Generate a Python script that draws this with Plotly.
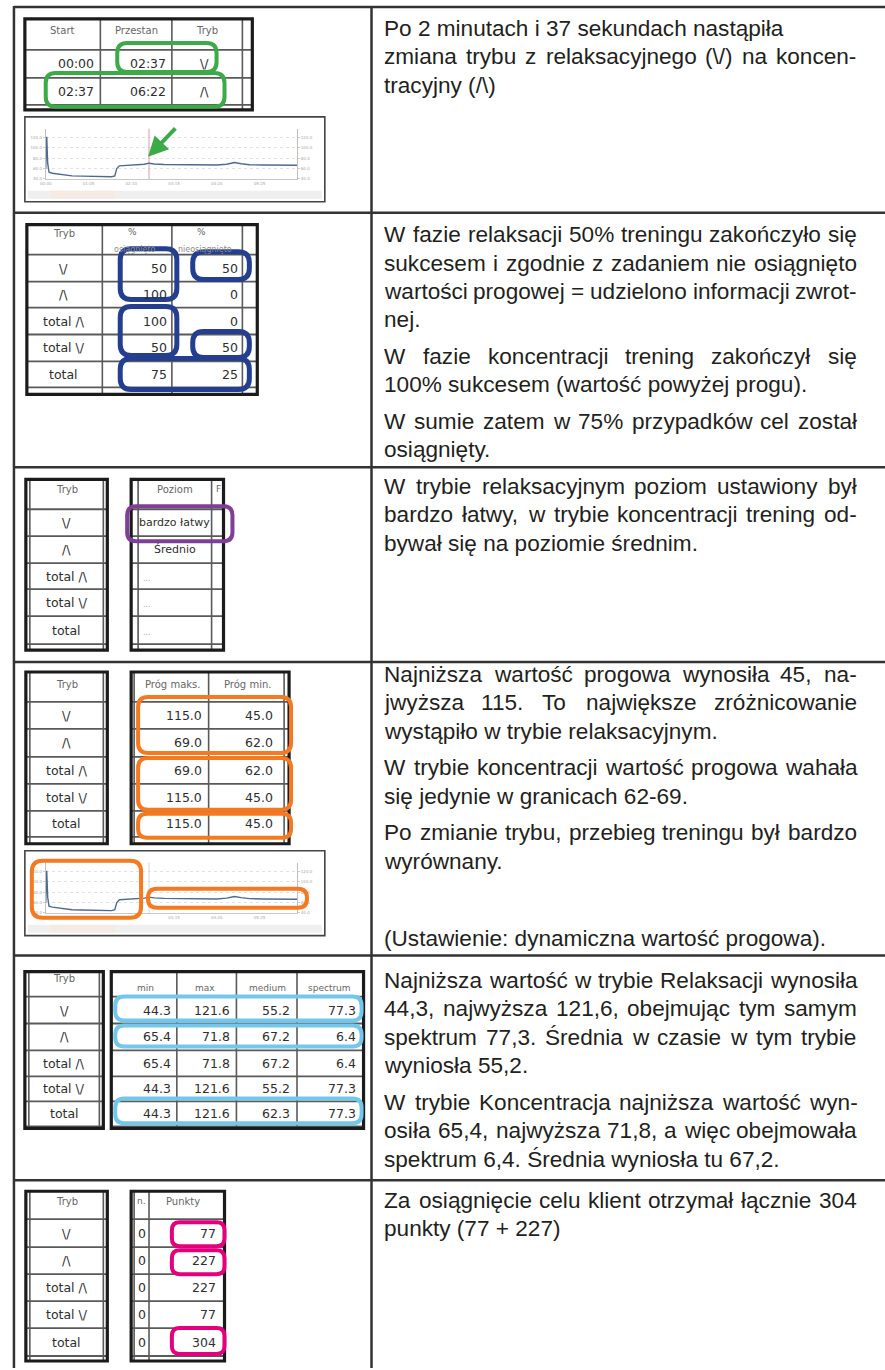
import plotly.graph_objects as go

W_PX, H_PX = 885, 1370

# ---------------- data ----------------
TRYB = ["\\/", "/\\", "total /\\", "total \\/", "total"]

T1_HEAD = ["Start", "Przestan", "Tryb"]
T1_START = ["00:00", "02:37"]
T1_END = ["02:37", "06:22"]
T1_MODE = ["\\/", "/\\"]

PCT_HEAD = ["%", "%"]
PCT_SUB = ["osiągnięto", "nieosiągnięto"]
PCT_OK = [50, 100, 100, 50, 75]
PCT_FAIL = [50, 0, 0, 50, 25]

LEVEL_HEAD = "Poziom"
LEVEL = ["bardzo łatwy", "Średnio", "...", "...", "..."]

THR_HEAD = ["Próg maks.", "Próg min."]
THR_MAX = [115.0, 69.0, 69.0, 115.0, 115.0]
THR_MIN = [45.0, 62.0, 62.0, 45.0, 45.0]

ST_HEAD = ["min", "max", "medium", "spectrum"]
ST_MIN = [44.3, 65.4, 65.4, 44.3, 44.3]
ST_MAX = [121.6, 71.8, 71.8, 121.6, 121.6]
ST_MED = [55.2, 67.2, 67.2, 55.2, 62.3]
ST_SPEC = [77.3, 6.4, 6.4, 77.3, 77.3]

PTS_HEAD = ["n.", "Punkty"]
PTS_N = [0, 0, 0, 0, 0]
POINTS = [77, 227, 227, 77, 304]

# signal of the session (seconds, value)
SIG_T = [0, 1.5, 3, 5, 10, 20, 30, 40, 55, 70, 85, 100, 105, 108, 112, 120, 135,
         150, 157, 165, 180, 200, 220, 240, 260, 275, 287, 297, 310, 330, 350, 370, 382]
SIG_V = [60, 121.6, 70, 53, 51, 49.5, 47.5, 46, 45.5, 45, 44.8, 44.3, 46, 60, 65.4, 66,
         66.8, 68.5, 70.5, 69, 68, 67.6, 67.8, 67.2, 67, 68.5, 71.8, 69.5, 67.5, 67,
         66.8, 66.5, 66.5]
MODE_CHANGE_S = 157
SESSION_END_S = 382
Y_TICKS = [40, 60, 80, 100, 120]
Y_TICKTEXT = ["40.0", "60.0", "80.0", "100.0", "120.0"]
X_TICKS = [0, 65, 130, 195, 260, 325]
X_TICKTEXT = ["00:00", "01:05", "02:10", "03:15", "04:20", "05:25"]

ROW_TEXT = [
    [["Po 2 minutach i 37 sekundach nastąpiła",
      "zmiana trybu z relaksacyjnego (\\/) na koncen-",
      "tracyjny (/\\)"]],
    [["W fazie relaksacji 50% treningu zakończyło się",
      "sukcesem i zgodnie z zadaniem nie osiągnięto",
      "wartości progowej = udzielono informacji zwrot-",
      "nej."],
     ["W fazie koncentracji trening zakończył się",
      "100% sukcesem (wartość powyżej progu)."],
     ["W sumie zatem w 75% przypadków cel został",
      "osiągnięty."]],
    [["W trybie relaksacyjnym poziom ustawiony był",
      "bardzo łatwy, w trybie koncentracji trening od-",
      "bywał się na poziomie średnim."]],
    [["Najniższa wartość progowa wynosiła 45, na-",
      "jwyższa 115. To największe zróżnicowanie",
      "wystąpiło w trybie relaksacyjnym."],
     ["W trybie koncentracji wartość progowa wahała",
      "się jedynie w granicach 62-69."],
     ["Po zmianie trybu, przebieg treningu był bardzo",
      "wyrównany."],
     [""],
     ["(Ustawienie: dynamiczna wartość progowa)."]],
    [["Najniższa wartość w trybie Relaksacji wynosiła",
      "44,3, najwyższa 121,6, obejmując tym samym",
      "spektrum 77,3. Średnia w czasie w tym trybie",
      "wyniosła 55,2."],
     ["W trybie Koncentracja najniższa wartość wyn-",
      "osiła 65,4, najwyższa 71,8, a więc obejmowała",
      "spektrum 6,4. Średnia wyniosła tu 67,2."]],
    [["Za osiągnięcie celu klient otrzymał łącznie 304",
      "punkty (77 + 227)"]],
]

# ---------------- styling / layout constants ----------------
FRAME = "#333333"
TEXT_C = "#231f20"
TAB_TXT = "#2e2e2e"
TAB_HEAD = "#666666"
TAB_FONT = "DejaVu Sans"
MAIN_FONT = "Liberation Sans, Arial, sans-serif"
GREEN, NAVY, PURPLE, ORANGE, SKY, PINK = "#3cab47", "#243f8f", "#7f3f98", "#f47920", "#74c7ec", "#e4007c"

ROW_LINES = [213, 468, 663, 957, 1182]
COL_SPLIT = 368
TXT_X0, TXT_X1 = 380, 855
FS = 22.6
LH = 28.4
PG = 8.3
BLANK_EXTRA = 4
ROW_FIRST_Y = [28.5, 235, 487, 675.5, 982, 1202]
NO_JUSTIFY = {(0, 0, 0)}

AW = {' ': 278, '!': 278, '%': 889, '(': 333, ')': 333, '+': 584, ',': 278, '-': 333,
      '.': 278, '/': 278, ':': 278, '=': 584, '\\': 278,
      'A': 667, 'B': 667, 'C': 722, 'D': 722, 'E': 667, 'F': 611, 'G': 778, 'H': 722,
      'I': 278, 'J': 500, 'K': 667, 'L': 556, 'M': 833, 'N': 722, 'O': 778, 'P': 667,
      'Q': 778, 'R': 722, 'S': 667, 'T': 611, 'U': 722, 'V': 667, 'W': 944, 'X': 667,
      'Y': 667, 'Z': 611,
      'a': 556, 'b': 556, 'c': 500, 'd': 556, 'e': 556, 'f': 278, 'g': 556, 'h': 556,
      'i': 222, 'j': 222, 'k': 500, 'l': 222, 'm': 833, 'n': 556, 'o': 556, 'p': 556,
      'q': 556, 'r': 333, 's': 500, 't': 278, 'u': 556, 'v': 500, 'w': 722, 'x': 500,
      'y': 500, 'z': 500,
      'ą': 556, 'ć': 500, 'ę': 556, 'ł': 222, 'ń': 556, 'ó': 556, 'ś': 500, 'ź': 500,
      'ż': 500, 'Ś': 667, 'Ł': 556, 'Ż': 611}
for d in "0123456789":
    AW[d] = 556


def tw(s, size=FS):
    return sum(AW.get(c, 556) for c in s) * size / 1000.0


shapes, anns = [], []


def line(x0, y0, x1, y1, color=FRAME, width=2.5):
    shapes.append(dict(type="line", xref="x", yref="y", x0=x0, y0=y0, x1=x1, y1=y1,
                       line=dict(color=color, width=width)))


def rect(x0, y0, x1, y1, color, width, fill="rgba(0,0,0,0)"):
    shapes.append(dict(type="rect", xref="x", yref="y", x0=x0, y0=y0, x1=x1, y1=y1,
                       line=dict(color=color, width=width), fillcolor=fill))


def frect(x0, y0, x1, y1, fill):
    shapes.append(dict(type="rect", xref="x", yref="y", x0=x0, y0=y0, x1=x1, y1=y1,
                       line=dict(width=0), fillcolor=fill))


def rrect(x0, y0, x1, y1, color, width=4, r=9):
    p = (f"M{x0 + r},{y0} L{x1 - r},{y0} Q{x1},{y0} {x1},{y0 + r} L{x1},{y1 - r} "
         f"Q{x1},{y1} {x1 - r},{y1} L{x0 + r},{y1} Q{x0},{y1} {x0},{y1 - r} "
         f"L{x0},{y0 + r} Q{x0},{y0} {x0 + r},{y0} Z")
    shapes.append(dict(type="path", xref="x", yref="y", path=p,
                       line=dict(color=color, width=width)))


def txt(x, y, s, size, color, anchor="center", family=TAB_FONT):
    anns.append(dict(x=x, y=y, xref="x", yref="y", text=s, showarrow=False,
                     xanchor=anchor, yanchor="middle", borderpad=0,
                     font=dict(size=size, color=color, family=family)))


def fmt(v):
    return f"{v:.1f}"


# ---------------- main frame ----------------
line(8, 7, W_PX, 7)
line(8, 6, 8, H_PX)
line(COL_SPLIT, 7, COL_SPLIT, H_PX)
for yy in ROW_LINES:
    line(8, yy, W_PX, yy)


# ---------------- table helpers ----------------
def table(x0, y0, x1, y1, vlines, hlines):
    for v in vlines:
        line(v, y0, v, y1, "#5a5a5a", 1.6)
    for h in hlines:
        line(x0, h, x1, h, "#5a5a5a", 1.8)
    rect(x0, y0, x1, y1, "#1b1b1b", 3.2)


def centers(hl):
    return [(a + b) / 2 for a, b in zip(hl[:-1], hl[1:])]


def tryb_table(x0, y0, x1, y1, hl, head_y):
    table(x0, y0, x1, y1, [x0 + 4, x1 - 4], hl)
    cx = (x0 + x1) / 2
    txt(cx, head_y, "Tryb", 10, TAB_HEAD)
    for lab, cy in zip(TRYB, centers(hl)):
        txt(cx, cy, lab, 12.5, TAB_TXT)


# ---- Row 1: start / przestan table ----
hl1 = [50, 78, 105]
table(19, 19, 248, 110, [95, 167, 238], hl1)
for lab, cx in zip(T1_HEAD, [57, 131, 202]):
    txt(cx, 31, lab, 10, TAB_HEAD)
for s, e, m, cy in zip(T1_START, T1_END, T1_MODE, centers(hl1)):
    txt(90, cy, s, 12.5, TAB_TXT, "right")
    txt(162, cy, e, 12.5, TAB_TXT, "right")
    txt(200, cy, m, 12.5, TAB_TXT)
rrect(112, 43, 212, 72, GREEN, 4, 10)
rrect(40, 73, 220, 107, GREEN, 4, 10)

# ---- Row 2: percentages ----
hl2 = [255, 282, 308, 335, 362, 388]
table(21, 225, 253, 395, [97, 167, 238], hl2)
txt(58, 234, "Tryb", 10, TAB_HEAD)
for h, sub, cx in zip(PCT_HEAD, PCT_SUB, [130, 200]):
    txt(cx - 3, 232, h, 9, TAB_HEAD)
    txt(cx, 250, sub, 8, "#8a8a8a")
for lab, a, b, cy in zip(TRYB, PCT_OK, PCT_FAIL, centers(hl2)):
    txt(58, cy, lab, 12.5, TAB_TXT)
    txt(163, cy, str(a), 12.5, TAB_TXT, "right")
    txt(235, cy, str(b), 12.5, TAB_TXT, "right")
rrect(115, 249, 172, 300, NAVY, 5, 11)
rrect(188, 252, 245, 280, NAVY, 5, 11)
rrect(115, 307, 172, 356, NAVY, 5, 11)
rrect(188, 332, 245, 358, NAVY, 5, 11)
rrect(115, 359, 245, 390, NAVY, 5, 11)

# ---- Row 3: level ----
hl3 = [510, 537, 564, 590, 617, 645]
tryb_table(20, 480, 102, 651, hl3, 490)
table(126, 480, 219, 651, [133, 207], hl3)
txt(170, 490, LEVEL_HEAD, 10, TAB_HEAD)
txt(214, 490, "F", 9, TAB_HEAD)
for lab, cy in zip(LEVEL, centers(hl3)):
    if lab == "...":
        txt(137, cy + 2, lab, 8, "#aaaaaa", "left")
    else:
        txt(170, cy, lab, 11, TAB_TXT)
rrect(122, 507, 228, 542, PURPLE, 4, 9)

# ---- Row 4: thresholds ----
hl4 = [703, 730, 758, 785, 812, 838]
tryb_table(20, 673, 102, 845, hl4, 685)
table(126, 673, 285, 845, [129, 204, 280], hl4)
for h, cx in zip(THR_HEAD, [168, 243]):
    txt(cx, 685, h, 10, TAB_HEAD)
for a, b, cy in zip(THR_MAX, THR_MIN, centers(hl4)):
    txt(198, cy, fmt(a), 12.5, TAB_TXT, "right")
    txt(270, cy, fmt(b), 12.5, TAB_TXT, "right")
rrect(133, 698, 287, 754, ORANGE, 4, 10)
rrect(133, 759, 287, 811, ORANGE, 4, 10)
rrect(133, 815, 287, 839, ORANGE, 4, 9)

# ---- Row 5: statistics ----
hl5 = [998, 1025, 1052, 1078, 1103, 1128]
tryb_table(19, 973, 98, 1130, hl5, 980)
table(106, 973, 360, 1130, [172, 232, 293], hl5)
for h, cx in zip(ST_HEAD, [140, 200, 263, 326]):
    txt(cx, 989, h, 9, TAB_HEAD)
for a, b, c, d, cy in zip(ST_MIN, ST_MAX, ST_MED, ST_SPEC, centers(hl5)):
    txt(167, cy, fmt(a), 12.5, TAB_TXT, "right")
    txt(227, cy, fmt(b), 12.5, TAB_TXT, "right")
    txt(287, cy, fmt(c), 12.5, TAB_TXT, "right")
    txt(353, cy, fmt(d), 12.5, TAB_TXT, "right")
rrect(110, 998, 358, 1022, SKY, 4, 9)
rrect(110, 1027, 358, 1048, SKY, 4, 9)
rrect(110, 1100, 358, 1125, SKY, 4, 9)

# ---- Row 6: points ----
hl6 = [1221, 1249, 1276, 1303, 1330, 1358]
tryb_table(20, 1193, 102, 1363, hl6, 1203)
table(126, 1193, 220, 1363, [129, 144], hl6)
txt(136, 1203, PTS_HEAD[0], 9, TAB_HEAD)
txt(178, 1203, PTS_HEAD[1], 10, TAB_HEAD)
for n, p, cy in zip(PTS_N, POINTS, centers(hl6)):
    txt(137, cy, str(n), 12.5, TAB_TXT)
    txt(212, cy, str(p), 12.5, TAB_TXT, "right")
rrect(167, 1224, 220, 1248, PINK, 4, 8)
rrect(167, 1252, 220, 1276, PINK, 4, 8)
rrect(167, 1330, 220, 1356, PINK, 4, 8)


# ---------------- mini line charts (screenshots) ----------------
def mini_chart(k, top, vline_color):
    xa, ya, yr = f"xaxis{k}", f"yaxis{k}", f"yaxis{k + 2}"
    xs, ys, yrs = f"x{k}", f"y{k}", f"y{k + 2}"
    rect(19, top, 321, top + 85, "#444444", 1.6)
    frect(22, top + 74, 318, top + 82, "#efefef")
    frect(45, top + 74, 110, top + 82, "#f5ebe3")
    d_top, d_bot = top + 12, top + 62.2
    fig.add_trace(go.Scatter(x=[MODE_CHANGE_S, MODE_CHANGE_S], y=[38, 139], xaxis=xs, yaxis=ys,
                             mode="lines", line=dict(color=vline_color, width=1),
                             hoverinfo="skip", showlegend=False))
    fig.add_trace(go.Scatter(x=SIG_T, y=SIG_V, xaxis=xs, yaxis=ys, mode="lines",
                             line=dict(color="#4f6a8f", width=1.4),
                             hoverinfo="skip", showlegend=False))
    fig.add_trace(go.Scatter(x=SIG_T, y=SIG_V, xaxis=xs, yaxis=yrs, mode="lines",
                             line=dict(color="rgba(0,0,0,0)", width=0),
                             hoverinfo="skip", showlegend=False))
    dom_x = [40 / W_PX, 293 / W_PX]
    dom_y = [1 - d_bot / H_PX, 1 - d_top / H_PX]
    fig.update_layout(**{
        xa: dict(domain=dom_x, range=[0, SESSION_END_S], anchor=ys, showline=True,
                 linecolor="#c8c8c8", linewidth=1, showgrid=False, zeroline=False,
                 tickvals=X_TICKS, ticktext=X_TICKTEXT, ticks="",
                 tickfont=dict(size=4, color="#a8a8a8", family=TAB_FONT), fixedrange=True),
        ya: dict(domain=dom_y, range=[40, 137.1], anchor=xs, showline=True, mirror=True,
                 linecolor="#c0c0c0", linewidth=1, showgrid=True, gridcolor="#e2e2e2",
                 griddash="dot", zeroline=False, tickvals=Y_TICKS, ticktext=Y_TICKTEXT,
                 ticks="outside", ticklen=2, tickcolor="#cccccc",
                 tickfont=dict(size=4, color="#a8a8a8", family=TAB_FONT), fixedrange=True),
        yr: dict(domain=dom_y, range=[40, 137.1], anchor=xs, overlaying=ys, side="right",
                 showline=False, showgrid=False, zeroline=False, tickvals=Y_TICKS,
                 ticktext=Y_TICKTEXT, ticks="outside", ticklen=2, tickcolor="#cccccc",
                 tickfont=dict(size=4, color="#a8a8a8", family=TAB_FONT), fixedrange=True),
    })


fig = go.Figure()
mini_chart(2, 117, "#d4a0a0")
mini_chart(3, 852, "#d6d6d6")

# green arrow pointing at the mode change
anns.append(dict(x=143, y=157, ax=172, ay=127, xref="x", yref="y", axref="x", ayref="y",
                 text="", showarrow=True, arrowhead=2, arrowsize=1, arrowwidth=4,
                 arrowcolor=GREEN))
# orange marks on the second chart
rrect(26, 862, 136, 919, ORANGE, 4, 11)
rrect(143, 890, 303, 909, ORANGE, 4, 9)

# ---------------- right column text (justified) ----------------
for r, paras in enumerate(ROW_TEXT):
    y = ROW_FIRST_Y[r]
    for p, lines in enumerate(paras):
        for i, ln in enumerate(lines):
            if ln:
                words = ln.split(" ")
                justify = (i < len(lines) - 1) and ((r, p, i) not in NO_JUSTIFY) and len(words) > 1
                if justify:
                    total = sum(tw(w) for w in words)
                    gap = (TXT_X1 - TXT_X0 - total) / (len(words) - 1)
                    x = TXT_X0
                    for w in words:
                        txt(x, y, w, FS, TEXT_C, "left", MAIN_FONT)
                        x += tw(w) + gap
                else:
                    txt(TXT_X0, y, ln, FS, TEXT_C, "left", MAIN_FONT)
            else:
                y += BLANK_EXTRA
            y += LH
        y += PG

fig.update_layout(
    width=W_PX, height=H_PX, margin=dict(l=0, r=0, t=0, b=0),
    paper_bgcolor="white", plot_bgcolor="white", showlegend=False,
    xaxis=dict(domain=[0, 1], range=[0, W_PX], visible=False, fixedrange=True),
    yaxis=dict(domain=[0, 1], range=[H_PX, 0], visible=False, fixedrange=True),
    shapes=shapes, annotations=anns,
)
fig.write_html("out.html", config={"displayModeBar": False},
               post_script="document.body.style.margin='0px';document.body.style.padding='0px';")
